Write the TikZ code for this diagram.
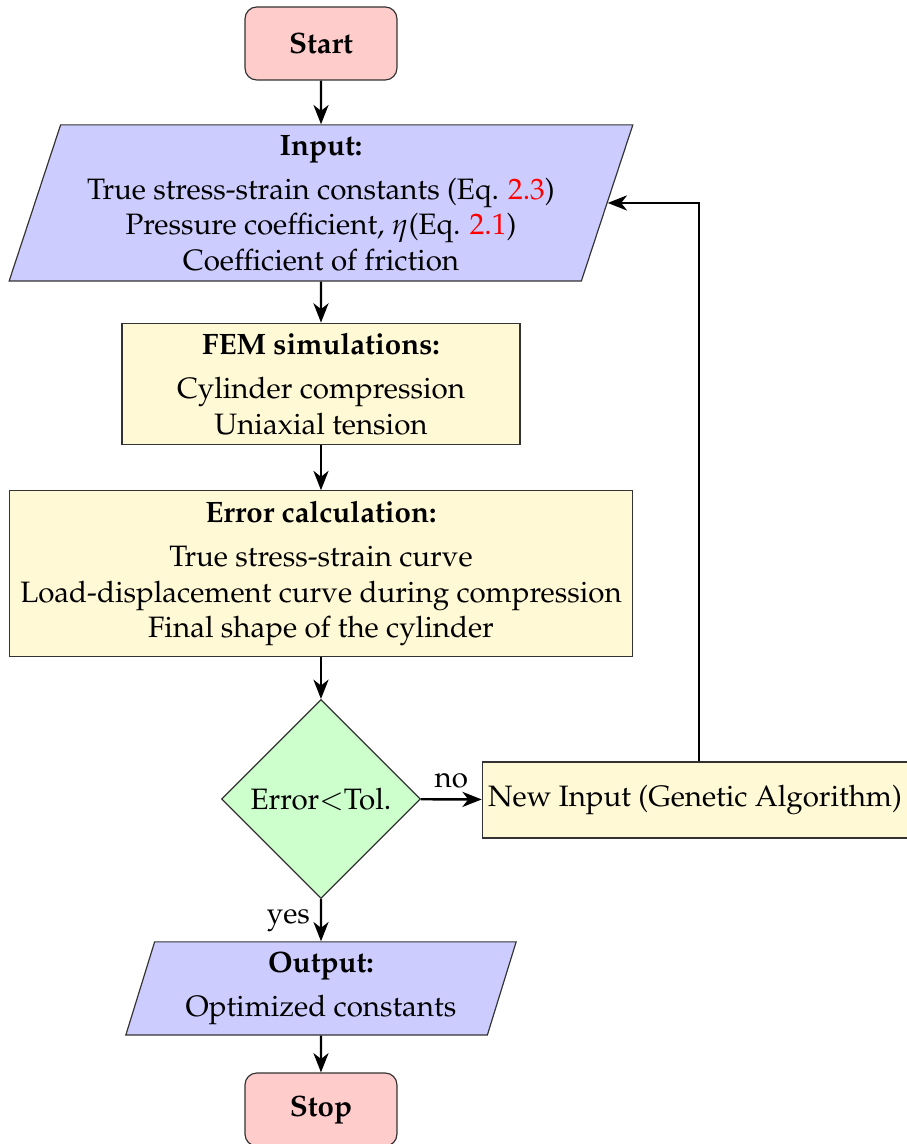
\documentclass[tikz,border=0pt]{standalone}
\usepackage[T1]{fontenc}
\usepackage{mathpazo}
\usepackage{xcolor}
\usetikzlibrary{shapes.geometric, arrows.meta}
\definecolor{procfill}{RGB}{255,249,214}
\tikzstyle{startstop}=[rectangle, rounded corners, minimum width=1.81cm, minimum height=0.87cm, draw=black!80, fill=red!20, font=\bfseries]
\tikzstyle{io}=[trapezium, trapezium left angle=70, trapezium right angle=110, trapezium stretches body, draw=black!80, fill=blue!20, align=center, inner sep=1pt]
\tikzstyle{process}=[rectangle, draw=black!80, fill=procfill, align=center]
\tikzstyle{decision}=[diamond, aspect=1, minimum size=2.37cm, inner sep=1pt, draw=black!80, fill=green!20]
\tikzstyle{flow}=[thick, -{Stealth[length=2.3mm, width=1.8mm, inset=0.7mm]}]

\begin{document}
\begin{tikzpicture}
				\useasboundingbox (0,0) rectangle (10.805,-13.629);

				% Column of steps
				\node[startstop] (start) at (3.824,-0.518) {Start};
				\node[io, minimum width=7.43cm, minimum height=1.86cm] (input) at (3.824,-2.418)
					{\textbf{Input:}\\[3pt]
					True stress-strain constants (Eq. \textcolor{red}{2.3})\\
					Pressure coefficient, $\eta$(Eq. \textcolor{red}{2.1})\\
					Coefficient of friction};
				\node[process, minimum width=4.74cm, minimum height=1.45cm] (fem) at (3.824,-4.575)
					{\textbf{FEM simulations:}\\[3pt]
					Cylinder compression\\
					Uniaxial tension};
				\node[process, minimum width=7.43cm, minimum height=1.97cm] (err) at (3.824,-6.832)
					{\textbf{Error calculation:}\\[3pt]
					True stress-strain curve\\
					Load-displacement curve during compression\\
					Final shape of the cylinder};
				\node[decision] (dec) at (3.824,-9.519) {Error$<$Tol.};
				\node[process, inner xsep=2pt, minimum width=5.0cm, minimum height=0.905cm] (newin) at (8.28,-9.531)
					{New Input (Genetic Algorithm)};
				\node[io, minimum width=4.65cm, minimum height=1.11cm] (output) at (3.824,-11.776)
					{\textbf{Output:}\\[3pt]
					Optimized constants};
				\node[startstop] (stop) at (3.824,-13.218) {Stop};

				% Connectors
				\draw[flow] (start) -- (input);
				\draw[flow] (input) -- (fem);
				\draw[flow] (fem) -- (err);
				\draw[flow] (err) -- (dec);
				\draw[flow] (dec) -- node[above] {no} (newin);
				\draw[flow] (dec) -- node[left] {yes} (output);
				\draw[flow] (output) -- (stop);
				\draw[flow] ([xshift=0.5mm]newin.north) |- (input.east);
			\end{tikzpicture}
\end{document}
